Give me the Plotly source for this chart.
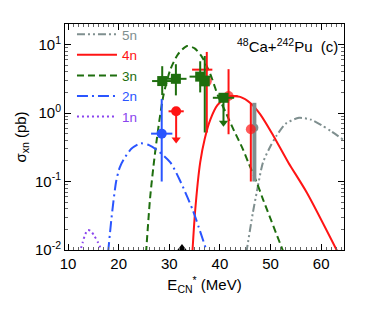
import plotly.graph_objects as go

# ---------------- data ----------------
# theoretical curves (E*_CN in MeV, sigma in pb)
E_1n = [12.3, 12.9, 13.4, 13.9, 14.5, 15.2, 15.9, 16.7]
s_1n = [0.009, 0.013, 0.017, 0.0195, 0.019, 0.016, 0.013, 0.0095]

E_2n = [17.9, 18.6, 19.5, 20.2, 21.0, 22.5, 24.3, 26.0, 27.5, 30.2, 32.2, 34.7, 37.4]
s_2n = [0.009, 0.03, 0.1, 0.16, 0.21, 0.3, 0.36, 0.34, 0.29, 0.19, 0.1, 0.037, 0.0095]

E_3n = [25.4, 26.2, 26.8, 27.5, 28.8, 30.2, 31.7, 33.5, 35.0, 36.5, 38.1, 39.6,
        41.2, 42.8, 44.5, 45.6, 47.2, 48.5, 52.5]
s_3n = [0.009, 0.057, 0.15, 0.4, 1.75, 4.3, 7.2, 9.5, 8.8, 6.5, 3.7, 1.8,
        1.0, 0.55, 0.3, 0.19, 0.1, 0.055, 0.0095]

E_4n = [34.55, 35.1, 36.1, 37.0, 38.1, 39.5, 41.0, 42.6, 44.0, 46.0, 48.0, 50.6,
        53.5, 57.2, 63.2]
s_4n = [0.009, 0.037, 0.19, 0.42, 0.8, 1.3, 1.62, 1.75, 1.72, 1.4, 0.95, 0.46,
        0.19, 0.068, 0.0095]

E_5n = [45.2, 46.5, 47.3, 48.5, 50.0, 51.2, 53.0, 55.6, 58.0, 60.0, 62.0, 64.5]
s_5n = [0.009, 0.035, 0.072, 0.19, 0.33, 0.47, 0.7, 0.85, 0.8, 0.67, 0.54, 0.4]

# experimental points
E_exp2n = [28.5];  s_exp2n = [0.5];   dE_exp2n = [2.1]
up_exp2n = [1.1];  lo_exp2n = [0.4]

E_exp3n = [28.6, 31.3, 36.1, 37.0];  s_exp3n = [2.93, 3.16, 3.4, 2.9]
dE_exp3n = [2.0, 2.1, 2.1, 0.0]
up_exp3n = [1.9, 2.0, 2.3, 3.9];  lo_exp3n = [1.1, 1.35, 1.4, 2.38]

E_exp4n = [36.5, 37.4, 41.7, 46.1];  s_exp4n = [4.3, 2.9, 1.77, 0.58]
dE_exp4n = [2.0, 0.0, 1.8, 0.0]
up_exp4n = [0.0, 4.9, 2.6, 0.81];  lo_exp4n = [0.0, 2.38, 1.28, 0.48]
msize_exp4n = [0, 10, 10, 10]

E_exp5n = [46.8];  s_exp5n = [0.61]
up_exp5n = [0.8];  lo_exp5n = [0.51]

# upper limits (arrows): point, arrow tip
E_lim4n = [31.35];  s_lim4n = [1.06];  tip_lim4n = [0.41];  dE_lim4n = [1.5]
E_lim3n = [40.7];   s_lim3n = [1.67];  tip_lim3n = [0.72];  dE_lim3n = [2.1]

# Bass barrier marker
E_bass = [32.5];  s_bass = [0.01]

y_tickvals = [0.01, 0.1, 1, 10]
y_ticktext = ["10<sup>-2</sup>", "10<sup>-1</sup>", "10<sup>0</sup>", "10<sup>1</sup>"]
x_tickvals = [10, 20, 30, 40, 50, 60]
y_minor = [m * 10 ** k for k in (-2, -1, 0, 1) for m in range(2, 10)]

# ---------------- styles ----------------
C5 = "#7f8f8f"
C4 = "#ff1414"
C3 = "#1e6e0e"
C2 = "#2a55ff"
C1 = "#8a44ee"
FONT = "Liberation Sans, Arial, sans-serif"

fig = go.Figure()

curves = [
    ("5n", E_5n, s_5n, C5, "8px,3px,2px,3px,2px,3px"),
    ("4n", E_4n, s_4n, C4, "solid"),
    ("3n", E_3n, s_3n, C3, "7px,4px"),
    ("2n", E_2n, s_2n, C2, "11px,4px,2px,4px"),
    ("1n", E_1n, s_1n, C1, "2px,3px"),
]
for name, xs, ys, col, dash in curves:
    fig.add_trace(go.Scatter(
        x=xs, y=ys, mode="lines",
        line=dict(color=col, width=2, dash=dash, shape="spline", smoothing=0.7),
        name=f"<span style='color:{col}'>{name}</span>", showlegend=True))


def err_trace(xs, ys, dx, up, lo, col, symbol, size, thick=2):
    return go.Scatter(
        x=xs, y=ys, mode="markers", showlegend=False,
        marker=dict(color=col, symbol=symbol, size=size, line=dict(width=0)),
        error_x=dict(type="data", array=dx, color=col, thickness=thick, width=0) if dx is not None else None,
        error_y=dict(type="data", symmetric=False, array=up, arrayminus=lo, color=col,
                     thickness=thick, width=0))


fig.add_trace(err_trace(E_exp5n, s_exp5n, None, up_exp5n, lo_exp5n, C5, "circle", 8, thick=4))
fig.add_trace(err_trace(E_exp4n, s_exp4n, dE_exp4n, up_exp4n, lo_exp4n, C4, "circle", msize_exp4n))
fig.add_trace(err_trace(E_exp3n, s_exp3n, dE_exp3n, up_exp3n, lo_exp3n, C3, "square", 10))
fig.add_trace(err_trace(E_exp2n, s_exp2n, dE_exp2n, up_exp2n, lo_exp2n, C2, "circle", 10))

for xs, ys, tips, dx, col, sym in [(E_lim4n, s_lim4n, tip_lim4n, dE_lim4n, C4, "circle"),
                                    (E_lim3n, s_lim3n, tip_lim3n, dE_lim3n, C3, "square")]:
    lo = [y - t for y, t in zip(ys, tips)]
    fig.add_trace(go.Scatter(
        x=xs, y=ys, mode="markers", showlegend=False,
        marker=dict(color=col, symbol=sym, size=10),
        error_x=dict(type="data", array=dx, color=col, thickness=2, width=0),
        error_y=dict(type="data", symmetric=False, array=[0] * len(xs), arrayminus=lo,
                     color=col, thickness=2, width=0)))
    fig.add_trace(go.Scatter(
        x=xs, y=tips, mode="markers", showlegend=False,
        marker=dict(color=col, symbol="triangle-down", size=8)))

fig.add_trace(go.Scatter(x=E_bass, y=s_bass, mode="markers", showlegend=False,
                         marker=dict(color="black", symbol="triangle-up", size=12),
                         cliponaxis=True))

fig.add_annotation(xref="paper", yref="paper", x=0.985, y=0.905, xanchor="right", yanchor="middle",
                   text="<sup>48</sup>Ca+<sup>242</sup>Pu  (c)", showarrow=False,
                   font=dict(family=FONT, size=15, color="black"))

fig.update_layout(
    width=374, height=320,
    margin=dict(l=57, r=38, t=11, b=78),
    paper_bgcolor="white", plot_bgcolor="white",
    font=dict(family=FONT, size=15, color="black"),
    showlegend=True,
    legend=dict(x=0.025, y=0.772, xanchor="left", yanchor="middle", bgcolor="rgba(0,0,0,0)",
                font=dict(family=FONT, size=13.5), itemwidth=40, tracegroupgap=0),
    xaxis=dict(range=[9.4, 64.5], tickvals=x_tickvals, ticks="inside", ticklen=6, tickcolor="black",
               showline=True, linecolor="black", linewidth=1, mirror="ticks", showgrid=False,
               zeroline=False,
               minor=dict(dtick=1, ticks="inside", ticklen=3, tickcolor="#666", showgrid=False),
               title=dict(text="E<sub>CN</sub><sup>*</sup> (MeV)", font=dict(family=FONT, size=15),
                          standoff=8),
               tickfont=dict(family=FONT, size=15)),
    yaxis=dict(type="log", range=[-2, 1.3], tickvals=y_tickvals, ticktext=y_ticktext,
               ticks="inside", ticklen=6, tickcolor="black",
               showline=True, linecolor="black", linewidth=1, mirror="ticks", showgrid=False,
               zeroline=False,
               minor=dict(tickvals=y_minor, ticks="inside", ticklen=3, tickcolor="#666", showgrid=False),
               title=dict(text="σ<sub>xn</sub> (pb)", font=dict(family=FONT, size=15), standoff=4),
               tickfont=dict(family=FONT, size=15)),
)

fig.write_html("out.html")
